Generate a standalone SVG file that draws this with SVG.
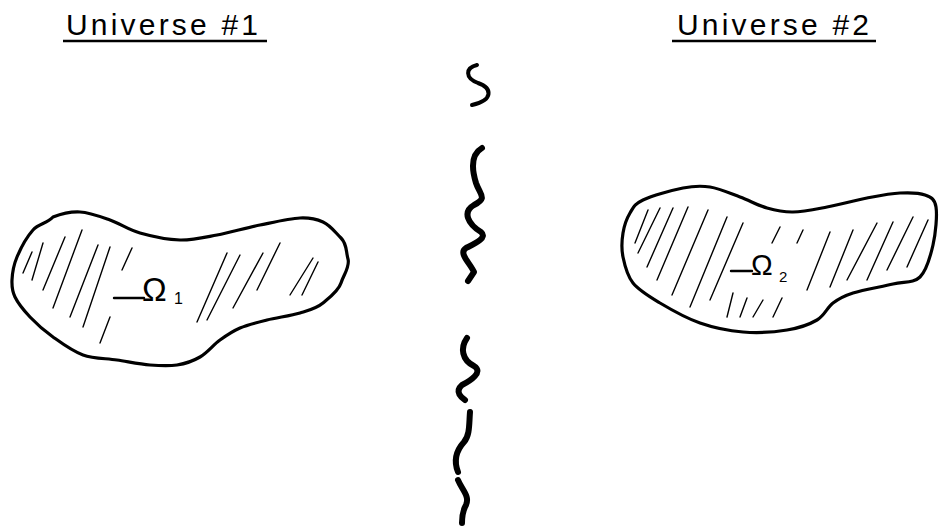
<svg xmlns="http://www.w3.org/2000/svg" width="940" height="527" viewBox="0 0 940 527">
<style>
.bg{fill:#ffffff}
.title{font-family:"Liberation Sans",Arial,sans-serif;font-size:30px;fill:#000}
.uline{stroke:#000;stroke-width:2.5;fill:none}
.blob{fill:none;stroke:#000;stroke-width:3.2;stroke-linejoin:round}
.hatch{fill:none;stroke:#000;stroke-width:1.4;stroke-linecap:round}
.omega{font-family:"Liberation Sans",Arial,sans-serif;fill:#000}
.dash{stroke:#000;stroke-width:2.4;stroke-linecap:round}
.sq{fill:none;stroke:#000;stroke-linecap:round;stroke-linejoin:round}
</style>
<rect class="bg" x="0" y="0" width="940" height="527"/>

<g id="title1">
<text class="title" x="66" y="35" textLength="192" lengthAdjust="spacing">Universe #1</text>
<line class="uline" x1="63" y1="41" x2="267" y2="41"/>
</g>

<g id="title2">
<text class="title" x="677" y="35" textLength="192" lengthAdjust="spacing">Universe #2</text>
<line class="uline" x1="672" y1="41" x2="876" y2="41"/>
</g>

<g id="universe1">
<path class="blob" d="M53,217 C60.8,214 70.5,211.5 80,212 S100,216.5 110,220 S128.3,229.7 140,233 S167.2,239.7 180,240 S203.7,237.5 217,235 S246.2,227.8 260,225 S289.5,218.5 300,218 S315.8,218.8 323,222 S334.8,231.8 341,238 S345.8,251.2 348,259 S343.3,275.3 341,283 S329.8,297.3 323,303 S309.3,310.2 300,313 S277,317.5 267,320 S247.8,324.7 240,328 S226.7,335.2 220,340 S207.2,352.8 200,357 S185.3,363.7 177,365 S160,365.8 150,365 S128.2,361.7 117,360 S93.7,358.8 83,355 S61.8,343.3 53,337 S36.3,323.7 30,317 S18,303.2 15,297 S11.7,286.7 12,280 S13.5,265.3 17,257 S27,236.7 33,230 S47,223.7 53,217 Z"/>
<path class="hatch" d="M32,252 L23,273 M43,243 L32,280 M65,237 L43,290 M82,230 L53,308 M98,245 L70,317 M110,247 L83,327 M132,248 L122,270 M110,317 L100,343 M227,253 L197,322 M240,255 L207,320 M263,253 L233,308 M280,243 L257,290 M313,258 L290,295 M318,262 L302,295"/>
<line class="dash" x1="114" y1="298" x2="144" y2="298"/>
<text class="omega" x="142" y="301" font-size="33">Ω</text>
<text class="omega" x="174" y="304" font-size="16">1</text>
</g>

<g id="universe2">
<path class="blob" d="M643,200 C651.8,195.8 671.8,190.2 683,188 S700.5,185.5 710,187 S730.5,193.5 740,197 S758.2,205.5 767,208 S783,212.2 793,212 S814.7,209.3 827,207 S854.8,200.3 867,198 S890.3,193.5 900,193 S919,192.7 925,195 S934.7,198.7 936,207 S935.7,233.3 933,245 S926.7,270.5 920,277 S904.2,281.3 893,284 S863,289.8 853,293 S839,298.5 833,303 S824.7,315.5 817,320 S799.3,328 787,330 S757.5,333.2 743,332 S713.8,327.8 700,323 S671.2,309.7 660,303 S639.2,290.7 633,283 S624.7,265.3 623,257 S621.8,240.3 623,233 S626.7,218.5 630,213 S634.2,204.2 643,200 Z"/>
<path class="hatch" d="M648,210 L635,243 M660,208 L638,253 M673,208 L647,267 M688,207 L657,280 M708,210 L672,295 M727,217 L690,307 M743,223 L710,300 M780,227 L772,243 M803,230 L797,243 M830,232 L807,290 M853,230 L830,287 M877,223 L847,280 M893,222 L867,280 M913,217 L887,270 M928,220 L907,267 M733,293 L727,317 M747,298 L740,317 M763,300 L753,317 M782,298 L773,317"/>
<line class="dash" x1="731" y1="271" x2="752" y2="271"/>
<text class="omega" x="751" y="275" font-size="29">Ω</text>
<text class="omega" x="779" y="282" font-size="15">2</text>
</g>

<g id="divider">
<path class="sq" stroke-width="4" d="M477,65 C465,68 465,78 478,83 C492,88 494,100 472,105"/>
<path class="sq" stroke-width="6" d="M482,148 C470,155 472,170 476,183 C480,195 488,198 474,205 C462,212 468,224 481,232 C488,238 474,244 466,248 C458,253 470,263 474,272 L468,281"/>
<path class="sq" stroke-width="6" d="M467,338 C460,348 462,360 474,366 C484,372 470,381 462,385 C454,392 462,398 465,400"/>
<path class="sq" stroke-width="6" d="M470,412 C469,424 470,435 464,442 C455,452 454,462 458,472"/>
<path class="sq" stroke-width="6" d="M458,480 C462,490 470,496 466,505 C462,512 462,518 462,523"/>
</g>
</svg>
